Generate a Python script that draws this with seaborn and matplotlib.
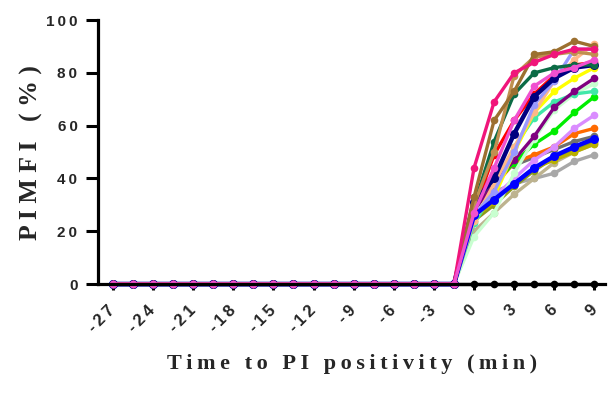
import matplotlib
matplotlib.use("Agg")
import matplotlib.pyplot as plt
import seaborn as sns
import pandas as pd

# Sampling times (min) relative to PI positivity
times = [-27, -25.5, -24, -22.5, -21, -19.5, -18, -16.5, -15, -13.5, -12, -10.5,
         -9, -7.5, -6, -4.5, -3, -1.5, 0, 1.5, 3, 4.5, 6, 7.5, 9]
# All cells sit at baseline before PI entry
baseline = [0, 0, 0, 0, 0, 0, 0, 0, 0, 0, 0, 0, 0, 0, 0, 0, 0, 0]

# PI MFI (%) from t = 0 to t = 9 min, one list per cell
cell_black = [0, 0, 0, 0, 0, 0, 0]
cell_darkgray = [30, 35, 38, 40, 42, 46.5, 49]
cell_khaki = [20, 27, 34, 40, 46, 50, 53]
cell_olive = [24, 30, 37, 43, 48, 51, 54]
cell_mustard = [25, 31, 38, 44, 47, 50, 53]
cell_gray = [33, 42, 45, 48, 51, 54, 56]
cell_orange = [30, 37, 46, 49, 52, 57, 59]
cell_lilac = [25, 33, 40, 47, 52, 59, 64]
cell_green = [28, 38, 46, 53, 58, 65, 71]
cell_palegreen = [18, 27, 42, 55, 66, 72, 76]
cell_aqua = [23, 35, 52, 63, 69, 72, 73]
cell_purple = [28, 38, 47, 56, 67, 73, 78]
cell_yellow = [25, 33, 50, 65, 73, 78, 82]
cell_peach = [24, 38, 52, 65, 77, 85, 91]
cell_periwinkle = [26, 35, 50, 68, 77, 89, 89]
cell_red = [28, 49, 62, 72, 79, 83, 84]
cell_blue = [26, 32, 38, 44, 48.5, 52, 55]
cell_navy = [31, 40, 57, 71, 78, 82, 83]
cell_darkgreen = [30, 54, 72, 80, 82, 83, 83]
cell_tan = [30, 50, 79, 86, 87, 88, 87]
cell_brown = [33, 62, 73, 87, 88, 92, 90]
cell_deeppink = [44, 69, 80, 84, 87, 89, 89]
cell_magenta = [27, 44, 62, 75, 80, 82, 85]

xtick_values = [-27, -24, -21, -18, -15, -12, -9, -6, -3, 0, 3, 6, 9]
ytick_values = [0, 20, 40, 60, 80, 100]

cells = [
    ("black", cell_black, "#000000"),
    ("darkgray", cell_darkgray, "#A8A8A8"),
    ("khaki", cell_khaki, "#BDB38F"),
    ("olive", cell_olive, "#8C9A1A"),
    ("mustard", cell_mustard, "#B8B000"),
    ("gray", cell_gray, "#707070"),
    ("orange", cell_orange, "#FF6A00"),
    ("lilac", cell_lilac, "#DA8CFF"),
    ("green", cell_green, "#00EE00"),
    ("palegreen", cell_palegreen, "#C8FFD0"),
    ("aqua", cell_aqua, "#40E8A8"),
    ("purple", cell_purple, "#800080"),
    ("yellow", cell_yellow, "#FFFF00"),
    ("peach", cell_peach, "#FFB888"),
    ("periwinkle", cell_periwinkle, "#9999FF"),
    ("red", cell_red, "#FF0000"),
    ("blue", cell_blue, "#0000FF"),
    ("navy", cell_navy, "#000080"),
    ("darkgreen", cell_darkgreen, "#0B6B45"),
    ("tan", cell_tan, "#C09050"),
    ("brown", cell_brown, "#9C7030"),
    ("deeppink", cell_deeppink, "#F0157A"),
    ("magenta", cell_magenta, "#F050D0"),
]

rows = []
for name, vals, _ in cells:
    for t, v in zip(times, baseline + vals):
        rows.append({"cell": name, "time": t, "pimfi": v})
df = pd.DataFrame(rows)
palette = {name: col for name, _, col in cells}
order = [name for name, _, _ in cells]


def spaced(text, gap="\u2009"):
    """Widen the tracking of a label by putting a thin space between glyphs."""
    return gap.join(text)


sns.set_style("ticks")
plt.rcParams["axes.unicode_minus"] = False
fig = plt.figure(figsize=(6.1, 3.94), dpi=100)
ax = fig.add_axes([0.161, 0.279, 0.831, 0.670])

sns.lineplot(data=df, x="time", y="pimfi", hue="cell", hue_order=order,
             palette=palette, marker="o", markersize=5.5, markeredgewidth=0,
             linewidth=2.4, estimator=None, sort=False, legend=False, ax=ax)

for line in ax.lines:
    line.set_clip_on(False)
    line.set_markeredgewidth(0)
    if line.get_color() in ("#0000FF", "#000080"):
        line.set_linewidth(3.2)
        line.set_markersize(6.5)

ax.set_xlim(-28.1, 9.8)
ax.set_ylim(0, 100)
ax.set_xticks(xtick_values)
ax.set_yticks(ytick_values)
ax.set_xticklabels([spaced(str(v)) for v in xtick_values])
ax.set_yticklabels([spaced(str(v)) for v in ytick_values])

for side in ("top", "right"):
    ax.spines[side].set_visible(False)
for side in ("left", "bottom"):
    ax.spines[side].set_linewidth(2.3)
    ax.spines[side].set_color("black")
ax.tick_params(axis="y", direction="out", length=9, width=2.2, color="black",
               labelsize=11, pad=6)
ax.tick_params(axis="x", direction="out", length=4, width=2.2, color="black",
               labelsize=12, pad=13)

for lab in ax.get_yticklabels():
    lab.set_fontfamily("Liberation Sans")
    lab.set_fontweight("bold")
for lab in ax.get_xticklabels():
    lab.set_fontfamily("Liberation Sans")
    lab.set_fontweight("bold")
    lab.set_rotation(45)
    lab.set_ha("right")
    lab.set_va("center")
    lab.set_rotation_mode("anchor")

ax.set_xlabel(spaced("Time to PI positivity (min)"), fontfamily="Liberation Serif",
              fontweight="bold", fontsize=16, labelpad=14)
ax.set_ylabel("P I M F I   ( % )", fontfamily="Liberation Serif",
              fontweight="bold", fontsize=18.5, labelpad=2)

fig.savefig("out.png", dpi=100)
